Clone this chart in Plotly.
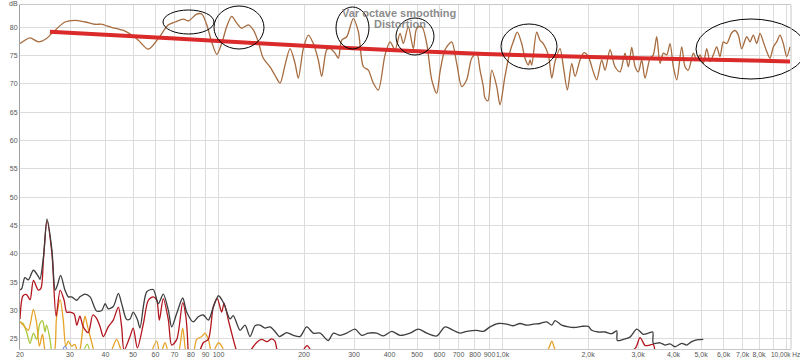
import math
import plotly.graph_objects as go

# ---------------- data ----------------
fr_freq = [20, 21.7, 23.2, 24.8, 25.9, 28.8, 31.2, 33.9, 36.7, 39.0, 40.4, 43.2, 46.9, 49.5, 52.2, 56.6,
           61.4, 66.6, 70.3, 75.2, 78.3, 83.8, 87.3, 90.9, 94.6, 98.6, 102.6, 106.9, 111.3, 115.9, 120.7,
           127.3, 132.6, 138.1, 143.8, 151.8, 158.1, 164.7, 171.5, 178.6, 186.0, 191.0, 198.9, 207.2,
           215.7, 224.6, 230.9, 240.4, 247.0, 257.2, 264.2, 271.6, 282.8, 298.3, 310.7, 323.6, 336.9,
           350.9, 365.4, 385.8, 401.8, 418.4, 435.7, 447.5, 466.0, 485.3, 498.9, 519.5, 541.0, 563.4,
           586.6, 602.5, 627.4, 662.4, 689.8, 718.3, 748.0, 778.9, 811.3, 833.3, 855.9, 867.8, 889,
           916.2, 954.2, 980, 1020, 1063, 1091, 1127, 1168, 1200, 1233, 1250, 1267, 1319, 1355, 1392,
           1450, 1491, 1531, 1594, 1638, 1692, 1753, 1800, 1875, 1936, 2005, 2088, 2146, 2235, 2296,
           2391, 2490, 2593, 2700, 2774, 2851, 2930, 3008, 3092, 3175, 3307, 3396, 3491, 3586, 3683,
           3786, 3889, 3995, 4107, 4276, 4392, 4511, 4698, 4829, 4960, 5093, 5236, 5378, 5524, 5678,
           5832, 5991, 6158, 6412, 6587, 6765, 6954, 7242, 7438, 7640, 7854, 8066, 8285, 8517, 8748,
           8985, 9237, 9487, 9743, 10016, 10287]
fr_db = [77.1, 78.1, 77.4, 78.0, 78.9, 80.9, 81.2, 80.9, 80.5, 80.5, 80.2, 79.8, 79.3, 78.6, 77.7, 76.1,
         78.0, 80.4, 80.9, 81.4, 81.1, 82.3, 82.3, 80.4, 77.4, 75.2, 77.1, 80.1, 81.9, 80.7, 79.8,
         80.4, 79.5, 77.4, 74.5, 73.0, 71.5, 70.1, 73.3, 76.2, 73.6, 71.0, 76.2, 78.6,
         77.1, 74.2, 71.3, 76.0, 76.2, 75.4, 74.5, 77.7, 78.3, 81.5, 79.2, 73.0, 72.4,
         70.1, 68.9, 75.1, 77.4, 76.0, 78.9, 77.1, 80.1, 76.2, 79.8, 80.1, 77.1, 70.7,
         68.3, 72.1, 76.0, 77.4, 73.6, 69.5, 70.7, 74.5, 75.4, 72.4, 69.5, 67.5, 67.0,
         72.4, 69.5, 66.3, 71.3, 75.7, 77.4, 79.1, 77.1, 74.5, 73.3, 74.2, 73.3, 79.1, 77.7, 77.1,
         75.1, 71.0, 73.9, 76.2, 73.0, 68.9, 73.6, 71.3, 74.2, 75.5, 74.8, 72.1, 70.7, 74.2, 72.4,
         76.0, 73.0, 72.1, 75.4, 73.0, 76.4, 73.0, 72.1, 74.2, 71.0, 74.5, 75.1, 78.3, 73.6, 75.4,
         75.1, 77.1, 73.0, 70.7, 76.5, 73.0, 72.4, 75.4, 74.2, 75.1, 73.6, 76.2, 73.9, 75.1, 76.5,
         74.8, 77.4, 77.1, 79.0, 79.4, 78.6, 76.2, 78.3, 77.4, 78.6, 77.1, 78.9, 77.4, 75.7, 74.5,
         76.5, 77.4, 78.6, 77.1, 74.8, 76.5]

trend_freq = [25.5, 70.3, 240, 868, 3050, 10287]
trend_db = [79.2, 78.0, 76.5, 75.25, 74.5, 73.95]

thd_freq = [20, 20.3, 20.8, 21.4, 22.3, 23.2, 23.5, 24.2, 24.9, 25.9, 26.6, 27.1, 27.8, 28.8, 29.6, 30.4,
            31.7, 32.5, 33.9, 35.3, 37.2, 38.8, 39.9, 40.9, 42.6, 44.4, 45.6, 47.5, 48.8, 50.1, 51.8,
            52.9, 55.9, 58.9, 61.4, 63.9, 66.6, 68.4, 71.3, 74.8, 77.3, 81.5, 84.9, 88.4, 92.1, 95.9,
            100, 104.0, 109.8, 112.7, 119.1, 124.0, 129.1, 134.5, 140.0, 145.8, 151.8, 158.1, 163.8,
            173.9, 183.4, 193.6, 204.5, 215.7, 227.8, 243.6, 253.7, 267.9, 282.8, 302.5, 319.3, 336.9,
            360.6, 380.5, 407.3, 435.7, 472.5, 505.1, 541.0, 586.6, 627.4, 671.2, 708.5, 748.0, 811.3,
            855.9, 903.6, 966.5, 1035, 1091, 1152, 1217, 1284, 1355, 1431, 1491, 1531, 1616, 1705,
            1800, 1901, 2005, 2061, 2175, 2296, 2424, 2524, 2536, 2663, 2811, 2970, 3132, 3262, 3380,
            3396, 3586, 3735, 3889, 4050, 4276, 4453, 4637, 4829, 5093]
thd_db = [33.6, 33.9, 35.8, 35.4, 37.1, 36.0, 35.5, 39.5, 46.1, 40.7, 33.6, 34.5, 36.2, 33.6, 32.4, 32.4,
          31.8, 32.4, 32.9, 32.4, 29.9, 30.0, 31.2, 30.3, 30.7, 33.0, 31.2, 28.4, 28.5, 29.7, 28.4,
          26.9, 33.3, 33.7, 31.2, 32.9, 30.0, 27.1, 29.5, 32.2, 29.7, 28.0, 28.9, 29.2, 28.3, 30.6,
          32.6, 31.4, 28.5, 29.1, 26.5, 27.4, 25.4, 27.3, 27.4, 26.9, 27.1, 26.3, 25.4,
          26.1, 25.6, 25.4, 27.1, 26.0, 26.0, 24.7, 26.0, 25.6, 26.0, 26.7, 25.6, 26.0,
          26.0, 25.5, 26.3, 25.6, 26.0, 26.7, 26.0, 25.5, 27.1, 26.5, 26.0, 26.3, 26.5,
          26.3, 27.1, 27.7, 27.6, 27.3, 27.7, 27.4, 27.6, 27.7, 28.0, 27.4, 28.2, 27.4, 27.1,
          27.0, 27.2, 27.2, 26.5, 26.2, 26.2, 25.9, 26.4, 24.7, 24.9, 25.3, 26.7, 25.8, 26.0, 26.2,
          24.2, 24.3, 23.9, 24.1, 23.6, 24.2, 23.9, 24.5, 24.8, 24.9]

h2_freq = [20, 20.5, 21.1, 21.7, 22.3, 23.2, 23.7, 24.2, 24.9, 25.9, 26.8, 27.7, 28.6, 29.2, 30.0, 31.0,
           31.7, 32.5, 33.4, 34.8, 36.1, 37.2, 38.3, 39.3, 40.9, 42.6, 44.4, 45.6, 46.5, 48.8, 50.1,
           51.8, 54.4, 56.6, 58.9, 60.6, 61.9, 63.9, 66.6, 68.4, 71.3, 74.8, 76.8, 78.3, None,
           85, 88.4, 92.1, 95.9, 99.0, 102.6, 104.6, 108.3, 112.7, 116.2, None,
           128, 136, 142, 148, 154, 158, 161, 165, None, 198, 205, 212, None,
           2811, 2950, 3050, 3180, 3300, 3396, 3450]
h2_db = [28.5, 32.6, 32.8, 31.9, 35.3, 33.6, 33.9, 39.2, 45.8, 40.1, 29.0, 33.6, 31.8, 29.7, 29.7, 29.4,
         27.4, 29.0, 27.1, 26.1, 29.2, 28.6, 27.1, 25.4, 27.1, 28.3, 30.6, 27.1, 23.0, 25.4, 26.9,
         23.4, 27.7, 31.8, 32.4, 31.8, 28.3, 32.1, 28.3, 23.9, 24.9, 31.4, 28.8, 22.0, None,
         22.0, 24.3, 24.9, 30.7, 32.1, 29.7, 31.3, 28.3, 24.9, 22.5, None,
         22.5, 24.3, 24.9, 24.5, 25.0, 24.6, 23.0, 22.5, None, 22.8, 23.8, 22.8, None,
         22.5, 23.5, 25.2, 23.8, 23.9, 24.0, 22.0]

h3_freq = [20, 20.8, 21.4, 22.3, 22.9, 23.4, 24.0, 24.8, 26.2, 26.9, 27.7, 28.4, 29.0, 29.6, 30.4, 31.2,
           32.0, 32.5, 33.4, 33.9, 34.5, 35.8, 36.7, None, 41.5, 42.6, 43.8, 45.0, 46.0, None,
           57.4, 60.6, 62.3, 64.8, 67.5, 72.0, 74.8, 77.5, 81.3, 83.8, 87.3, 89.6, 92.1, 94.9, 100,
           102.6, 106, None, 1400, 1460, 1491, 1520, 1560]
h3_db = [28.0, 27.1, 26.5, 30.2, 27.7, 23.7, 25.8, 22.0, 22.0, 28.8, 31.9, 28.3, 23.7, 24.6, 23.7, 24.0,
         22.5, 23.0, 27.5, 29.0, 27.4, 24.3, 22.0, None, 22.0, 23.7, 24.9, 23.5, 22.0, None,
         22.0, 24.6, 22.0, 24.3, 22.0, 22.5, 26.9, 22.0, 22.5, 24.9, 25.4, 26.0, 24.9, 22.5, 24.3,
         23.7, 22.0, None, 22.0, 23.5, 24.6, 23.5, 22.0]

h4_freq = [20, 20.5, 21.1, 21.7, 22.3, 22.9, 23.5, 24.0, 24.5, 24.8, 25.5, 25.9, None, 33.0, 34.5, 35.5]
h4_db = [28.0, 27.7, 26.2, 24.2, 26.0, 24.9, 27.7, 28.2, 26.2, 27.4, 24.9, 22.0, None, 22.0, 24.0, 22.0]

h5_freq = [28.0, 28.8, 29.6]
h5_db = [22.5, 23.7, 22.5]

x_tickvals = [20, 30, 40, 50, 60, 70, 80, 90, 100, 200, 300, 400, 500, 600, 700, 800, 900,
              1000, 2000, 3000, 4000, 5000, 6000, 7000, 8000, 9000, 10000]
x_ticktext = ["20", "30", "40", "50", "60", "70", "80", "90", "100", "200", "300", "400", "500",
              "600", "700", "800", "900", "1,0k", "2,0k", "3,0k", "4,0k", "5,0k", "6,0k", "7,0k",
              "8,0k", "", ""]
last_tick_label = "10,00k Hz"
y_tickvals = [25, 30, 35, 40, 45, 50, 55, 60, 65, 70, 75, 80]

title_lines = ["Var octave smoothing", "Distortion"]

# ---------------- figure ----------------
fig = go.Figure()

def add_line(x, y, color, width=1.3, shape="spline"):
    fig.add_trace(go.Scatter(x=x, y=y, mode="lines", connectgaps=False,
                             line=dict(color=color, width=width, shape=shape, smoothing=0.8),
                             hoverinfo="skip", showlegend=False))

add_line(h5_freq, h5_db, "#7C92E0")
add_line(h4_freq, h4_db, "#A9C83A")
add_line(h3_freq, h3_db, "#E6A327")
add_line(h2_freq, h2_db, "#B3161E")
add_line(thd_freq, thd_db, "#3E3E3E")
add_line(fr_freq, fr_db, "#A66B3E")
add_line(trend_freq, trend_db, "#DA2A2A", width=4)

W, H = 800, 360
L, R, T, B = 20, 9, 5, 11
pw, ph = W - L - R, H - T - B

def px(x):
    return (x - L) / pw

def py(y):
    return (H - B - y) / ph

ellipses = [(163, 10, 214, 34), (214, 6, 264, 49), (336, 7, 369, 49), (396, 18, 434, 55),
            (501, 24, 557, 69), (696, 19, 806, 79)]
for x0, y0, x1, y1 in ellipses:
    fig.add_shape(type="circle", xref="paper", yref="paper",
                  x0=px(x0), x1=px(x1), y0=py(y1), y1=py(y0),
                  line=dict(color="black", width=1))

tfont = dict(family="Liberation Sans, Arial", size=11, color="rgba(125,125,125,0.9)")
fig.add_annotation(x=px(399), y=py(13), xref="paper", yref="paper", text="<b>" + title_lines[0] + "</b>",
                   showarrow=False, font=tfont, xanchor="center", yanchor="middle")
fig.add_annotation(x=px(400), y=py(24), xref="paper", yref="paper", text="<b>" + title_lines[1] + "</b>",
                   showarrow=False, font=tfont, xanchor="center", yanchor="middle")
sfont = dict(family="Liberation Sans, Arial", size=7, color="#555")
fig.add_annotation(x=px(13), y=py(4), xref="paper", yref="paper", text="dB", showarrow=False,
                   font=sfont, xanchor="center", yanchor="middle")
fig.add_annotation(x=px(802), y=py(354), xref="paper", yref="paper", text=last_tick_label, showarrow=False,
                   font=dict(family="Liberation Sans, Arial", size=6.5, color="#555"),
                   xanchor="right", yanchor="middle")

fig.update_layout(
    width=W, height=H, margin=dict(l=L, r=R, t=T, b=B, autoexpand=False),
    paper_bgcolor="white", plot_bgcolor="white",
    xaxis=dict(type="log", range=[math.log10(20), math.log10(10370)],
               tickvals=x_tickvals, ticktext=x_ticktext, tickangle=0, showgrid=True, gridcolor="#dcdcdc",
               gridwidth=1, zeroline=False, showline=True, linecolor="#c8c8c8", mirror=True,
               tickfont=sfont, ticks="", ticklabelstandoff=-1, automargin=False),
    yaxis=dict(range=[23.2, 83.9], tickvals=y_tickvals, showgrid=True, gridcolor="#dcdcdc",
               gridwidth=1, zeroline=False, showline=True, linecolor="#a0a0a0", mirror=False,
               tickfont=sfont, ticks="", automargin=False),
)
fig.add_shape(type="line", xref="paper", yref="paper", x0=1, x1=1, y0=0, y1=1,
              line=dict(color="#c8c8c8", width=1))

fig.write_html("out.html", config={"displayModeBar": False},
               post_script="document.body.style.margin='0';document.body.style.overflow='hidden';")
